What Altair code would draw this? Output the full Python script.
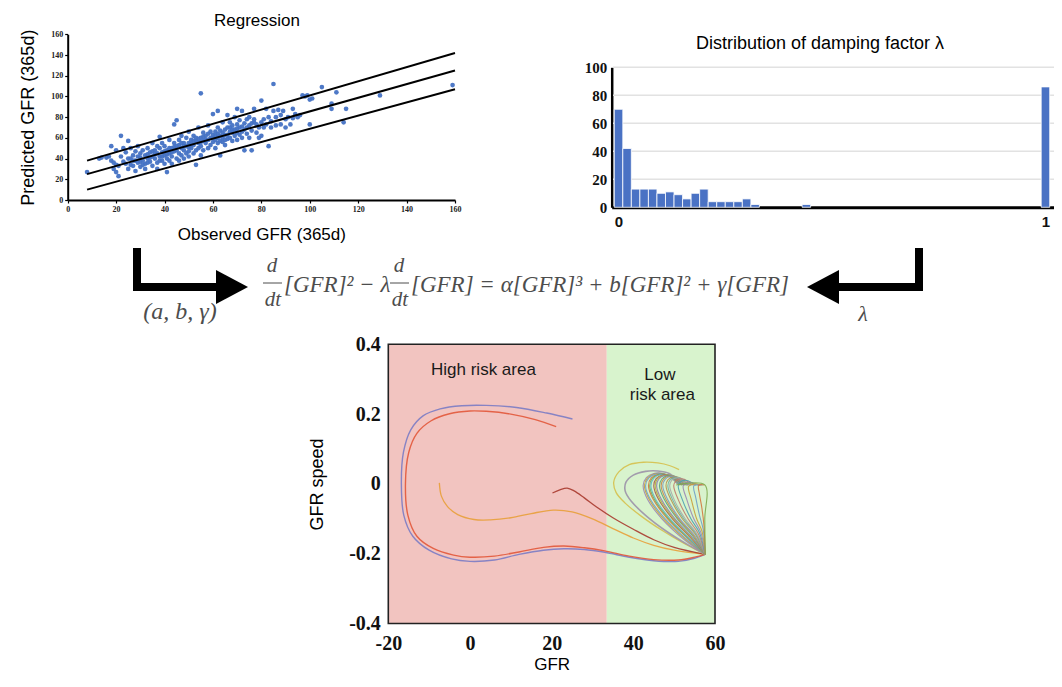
import altair as alt
import pandas as pd

W, H = 1046, 668
SANS = "Liberation Sans"
SERIF = "Liberation Serif"
M = 8  # page margin, page coords -> chart coords

# ---------------- Regression panel ----------------
regression_points = [
    (8, 27), (13, 40), (14, 41), (16, 41), (17, 42), (18, 52), (18, 38), (19, 30), (19, 36), (20, 27),
    (20, 34), (20, 48), (21, 23), (21, 33), (22, 62), (22, 42), (23, 37), (23, 50), (24, 35), (24, 46),
    (25, 57), (25, 30), (25, 40), (26, 40), (26, 50), (26, 34), (27, 33), (27, 43), (27, 38), (28, 28),
    (28, 38), (28, 47), (29, 36), (29, 52), (29, 42), (30, 32), (30, 41), (30, 45), (30, 37), (31, 38),
    (31, 48), (31, 34), (32, 35), (32, 30), (32, 43), (33, 44), (33, 40), (33, 50), (33, 36), (34, 37),
    (34, 46), (34, 41), (35, 33), (35, 42), (35, 55), (35, 47), (36, 40), (36, 48), (36, 44), (37, 36),
    (37, 45), (37, 30), (37, 52), (38, 42), (38, 50), (38, 61), (38, 38), (39, 38), (39, 46), (39, 55),
    (39, 42), (40, 35), (40, 43), (40, 52), (40, 47), (41, 40), (41, 48), (41, 27), (41, 44), (42, 45),
    (42, 38), (42, 58), (42, 50), (43, 50), (43, 42), (43, 35), (43, 46), (44, 47), (44, 55), (44, 73),
    (44, 51), (45, 40), (45, 52), (45, 77), (45, 48), (46, 45), (46, 58), (46, 38), (46, 53), (47, 50),
    (47, 43), (47, 62), (47, 55), (48, 48), (48, 55), (48, 40), (48, 52), (49, 52), (49, 45), (49, 60),
    (50, 47), (50, 55), (50, 42), (50, 66), (50, 51), (51, 50), (51, 58), (51, 54), (52, 53), (52, 45),
    (52, 62), (52, 57), (53, 48), (53, 57), (53, 34), (53, 60), (54, 55), (54, 50), (54, 70), (54, 59),
    (55, 52), (55, 60), (55, 103), (55, 43), (55, 56), (56, 57), (56, 48), (56, 65), (56, 61), (57, 55),
    (57, 62), (57, 58), (58, 50), (58, 58), (58, 72), (58, 64), (59, 60), (59, 53), (59, 66), (60, 56),
    (60, 63), (60, 83), (60, 60), (61, 58), (61, 66), (61, 50), (61, 62), (62, 60), (62, 55), (62, 70),
    (62, 86), (62, 64), (63, 62), (63, 43), (63, 57), (63, 67), (64, 65), (64, 60), (64, 75), (64, 56),
    (65, 58), (65, 68), (65, 53), (65, 63), (66, 63), (66, 70), (66, 82), (66, 59), (67, 60), (67, 66),
    (67, 75), (67, 70), (68, 65), (68, 57), (68, 72), (68, 68), (69, 68), (69, 62), (69, 80), (70, 65),
    (70, 58), (70, 73), (70, 88), (70, 69), (71, 70), (71, 63), (71, 77), (72, 66), (72, 60), (72, 86),
    (72, 71), (73, 68), (73, 48), (73, 74), (74, 70), (74, 64), (74, 78), (75, 72), (75, 60), (75, 80),
    (76, 67), (76, 48), (76, 74), (77, 75), (77, 78), (77, 88), (78, 65), (78, 73), (79, 70), (79, 60),
    (80, 75), (80, 96), (80, 62), (81, 78), (81, 70), (82, 73), (82, 88), (83, 52), (83, 80), (84, 76),
    (84, 70), (85, 112), (85, 86), (86, 80), (86, 72), (87, 87), (88, 82), (88, 73), (89, 86), (90, 78),
    (90, 70), (91, 80), (92, 73), (93, 88), (93, 79), (94, 83), (95, 80), (96, 82), (97, 101), (98, 100),
    (99, 101), (100, 73), (100, 97), (101, 98), (105, 109), (109, 93), (109, 88), (111, 104), (114, 75),
    (115, 88), (129, 101), (159, 111),
]
obs_gfr = [p[0] for p in regression_points]
pred_gfr = [p[1] for p in regression_points]
band_x = [8, 160]
band_upper = [38, 142]
band_mid = [25, 125]
band_lower = [10, 107]
scatter_ticks = [0, 20, 40, 60, 80, 100, 120, 140, 160]

# ---------------- Damping factor histogram ----------------
lambda_centers = [0.00, 0.02, 0.04, 0.06, 0.08, 0.10, 0.12, 0.14, 0.16, 0.18,
                  0.20, 0.22, 0.24, 0.26, 0.28, 0.30, 0.32, 0.44, 1.00]
lambda_counts = [70, 42, 13, 13, 13, 10, 11, 9, 6, 10, 13, 4, 4, 4, 4, 6, 2, 2, 86]
lambda_bin_width = 0.02
hist_ticks_y = [0, 20, 40, 60, 80, 100]
hist_grid = [20, 40, 60, 80, 100]

# ---------------- Phase portrait ----------------
high_risk_gfr = [-20, 33.5]
low_risk_gfr = [33.5, 60]
speed_range = [-0.4, 0.4]
phase_ticks_x = [-20, 0, 20, 40, 60]
phase_ticks_y = [-0.4, -0.2, 0, 0.2, 0.4]

blue_curve = [(25.1, 0.186), (18.8, 0.203), (11.4, 0.219), (4, 0.225), (-2, 0.224), (-7.3, 0.215),
              (-11.5, 0.195), (-14.5, 0.155), (-16.3, 0.09), (-16.8, 0.0), (-16.2, -0.09), (-14, -0.15),
              (-10, -0.19), (-4.5, -0.215), (0, -0.222), (6, -0.218), (12, -0.202), (18, -0.19),
              (23, -0.186), (28, -0.188), (33, -0.196), (39, -0.21), (45, -0.22), (51, -0.222),
              (55, -0.213), (57.6, -0.202)]
red_curve = [(21.1, 0.164), (16, 0.184), (10, 0.2), (4, 0.208), (0, 0.209), (-5, 0.201), (-9.5, 0.181),
             (-13, 0.145), (-15, 0.09), (-15.8, 0.0), (-15.2, -0.09), (-13, -0.15), (-9, -0.185),
             (-4, -0.204), (0, -0.21), (6, -0.207), (12, -0.195), (18, -0.182), (23, -0.178), (28, -0.183),
             (33, -0.192), (39, -0.207), (45, -0.217), (51, -0.218), (55, -0.21), (57.6, -0.202)]
orange_curve = [(-7.5, 0.003), (-7, -0.035), (-5.5, -0.065), (-3, -0.088), (1, -0.102), (5, -0.103),
                (10, -0.097), (15, -0.085), (20.4, -0.075), (25, -0.08), (30, -0.1), (35, -0.128),
                (40, -0.155), (45, -0.176), (50, -0.19), (57.6, -0.202)]
darkred_curve = [(20.2, -0.026), (22, -0.017), (23.8, -0.012), (25.5, -0.02), (28, -0.04), (31, -0.066),
                 (35, -0.097), (40, -0.13), (45, -0.16), (50, -0.182), (57.6, -0.202)]
yellow_curve = [(51.2, 0.041), (49, 0.052), (46, 0.06), (42.5, 0.062), (39, 0.055), (36.5, 0.035),
                (35.2, 0.005), (35.8, -0.025), (38, -0.055), (42, -0.093), (47, -0.133), (52, -0.168),
                (57.6, -0.202)]
gray_curve = [(50.4, 0.016), (48.8, 0.03), (46, 0.037), (43, 0.036), (40, 0.025), (38.2, 0.005),
              (38, -0.02), (39.5, -0.05), (43, -0.09), (48, -0.135), (53, -0.172), (57.6, -0.202)]

fan_curves = [
    [(57.6, -0.202), (52.5, -0.16), (47.0, -0.10), (43.5, -0.045), (42.4, -0.005), (43.2, 0.018), (45.0, 0.030), (47.2, 0.030), (49.2, 0.019), (50.6, 0.003), (51.2, -0.003)],
    [(57.6, -0.202), (52.8, -0.159), (47.4, -0.10), (43.9, -0.045), (42.7, -0.005), (43.5, 0.0175), (45.2, 0.029), (47.4, 0.029), (49.3, 0.018), (50.7, 0.0025), (51.3, -0.003)],
    [(57.6, -0.202), (53.0, -0.158), (47.8, -0.10), (44.2, -0.045), (43.0, -0.005), (43.8, 0.017), (45.5, 0.028), (47.6, 0.028), (49.5, 0.017), (50.8, 0.002), (51.5, -0.003)],
    [(57.6, -0.202), (53.3, -0.156), (48.4, -0.10), (44.9, -0.045), (43.7, -0.005), (44.4, 0.017), (46.0, 0.027), (48.0, 0.027), (49.8, 0.016), (51.1, 0.002), (51.8, -0.003)],
    [(57.6, -0.202), (53.45, -0.1555), (48.7, -0.10), (45.2, -0.045), (44.0, -0.005), (44.7, 0.0165), (46.25, 0.0265), (48.2, 0.0265), (49.95, 0.0155), (51.25, 0.0015), (51.95, -0.003)],
    [(57.6, -0.202), (53.6, -0.155), (49.0, -0.10), (45.5, -0.045), (44.3, -0.005), (45.0, 0.016), (46.5, 0.026), (48.4, 0.026), (50.1, 0.015), (51.4, 0.001), (52.1, -0.003)],
    [(57.6, -0.202), (54.0, -0.154), (49.6, -0.10), (46.2, -0.045), (45.0, -0.005), (45.6, 0.015), (47.0, 0.025), (48.8, 0.025), (50.4, 0.014), (51.7, 0.001), (52.4, -0.003)],
    [(57.6, -0.202), (54.15, -0.153), (49.9, -0.10), (46.55, -0.045), (45.35, -0.005), (45.95, 0.015), (47.3, 0.0245), (49.05, 0.0245), (50.6, 0.0135), (51.85, 0.0005), (52.6, -0.003)],
    [(57.6, -0.202), (54.3, -0.152), (50.2, -0.10), (46.9, -0.045), (45.7, -0.005), (46.3, 0.015), (47.6, 0.024), (49.3, 0.024), (50.8, 0.013), (52.0, 0.0), (52.8, -0.003)],
    [(57.6, -0.202), (54.6, -0.150), (50.8, -0.10), (47.6, -0.045), (46.4, -0.005), (47.0, 0.014), (48.2, 0.023), (49.8, 0.023), (51.2, 0.012), (52.4, 0.0), (53.2, -0.003)],
    [(57.6, -0.202), (54.8, -0.149), (51.1, -0.10), (48.0, -0.045), (46.8, -0.005), (47.4, 0.0135), (48.55, 0.022), (50.1, 0.022), (51.45, 0.011), (52.6, 0.0), (53.4, -0.003)],
    [(57.6, -0.202), (55.0, -0.148), (51.4, -0.10), (48.4, -0.045), (47.2, -0.005), (47.8, 0.013), (48.9, 0.021), (50.4, 0.021), (51.7, 0.010), (52.8, 0.0), (53.6, -0.003)],
    [(57.6, -0.202), (55.3, -0.146), (52.0, -0.10), (49.2, -0.045), (48.0, -0.005), (48.5, 0.012), (49.6, 0.019), (51.0, 0.019), (52.2, 0.009), (53.2, 0.0), (54.0, -0.003)],
    [(57.6, -0.202), (55.45, -0.145), (52.35, -0.10), (49.6, -0.045), (48.45, -0.005), (48.95, 0.011), (50.0, 0.018), (51.35, 0.0175), (52.5, 0.008), (53.45, -0.0005), (54.2, -0.003)],
    [(57.6, -0.202), (55.6, -0.144), (52.7, -0.10), (50.0, -0.045), (48.9, -0.005), (49.4, 0.010), (50.4, 0.017), (51.7, 0.016), (52.8, 0.007), (53.7, -0.001), (54.4, -0.003)],
    [(57.6, -0.202), (55.9, -0.142), (53.4, -0.10), (51.0, -0.045), (49.9, -0.005), (50.4, 0.008), (51.3, 0.014), (52.5, 0.013), (53.5, 0.005), (54.2, -0.001), (54.9, -0.003)],
    [(57.6, -0.202), (56.2, -0.140), (54.1, -0.10), (52.0, -0.045), (51.0, -0.006), (51.5, 0.005), (52.4, 0.010), (53.4, 0.009), (54.3, 0.003), (55.4, -0.003)],
    [(57.6, -0.202), (56.5, -0.138), (54.8, -0.10), (53.1, -0.045), (52.2, -0.006), (52.8, 0.003), (53.8, 0.005), (54.9, 0.001), (55.9, -0.003)],
    [(57.6, -0.202), (56.8, -0.135), (55.5, -0.10), (54.2, -0.045), (53.5, -0.008), (54.2, -0.002), (55.2, 0.0), (56.4, -0.003)],
    [(57.6, -0.202), (57.1, -0.130), (56.2, -0.09), (55.3, -0.04), (54.8, -0.006), (55.6, -0.003), (56.9, -0.003)],
    [(57.6, -0.202), (57.3, -0.120), (56.8, -0.07), (56.2, -0.03), (56.0, -0.004), (57.4, -0.003)],
    [(57.6, -0.202), (57.5, -0.10), (57.5, -0.003), (50.5, -0.003)],
]
fan_colors = ["#9a86b4", "#c9a03a", "#6e9fc8", "#d3783e", "#7eaa4e", "#5fb6c6", "#a8564a", "#b4b23e",
              "#8f7fae", "#5aa67a", "#c98a48", "#7d9bc0", "#b7914e", "#6fb0a0", "#a9a9a9", "#c07a6a",
              "#4f9fb0"]

main_curves = [("blue", blue_curve, "#7b7cc4", 1.4), ("red", red_curve, "#e2583a", 1.4),
               ("orange", orange_curve, "#e8a03a", 1.3), ("darkred", darkred_curve, "#a83a2e", 1.3),
               ("yellow", yellow_curve, "#d6c04c", 1.3), ("gray", gray_curve, "#9c92a8", 1.6)]

# ---------------- helpers ----------------
one_row = pd.DataFrame({"k": [0]})


def txt(s, px, py, size, font=SANS, style="normal", weight="normal", color="black", align="center"):
    return alt.Chart(one_row).mark_text(
        text=s, font=font, fontSize=size, fontStyle=style, fontWeight=weight, color=color,
        align=align, baseline="middle"
    ).encode(x=alt.value(px - M), y=alt.value(py - M))


def rule(px1, py1, px2, py2, width=8, color="black", cap="butt"):
    return alt.Chart(one_row).mark_rule(color=color, strokeWidth=width, strokeCap=cap).encode(
        x=alt.value(px1 - M), y=alt.value(py1 - M), x2=alt.value(px2 - M), y2=alt.value(py2 - M))


def head(shape, px, py, size):
    return alt.Chart(one_row).mark_point(shape=shape, size=size, filled=True, color="black",
                                         opacity=1, strokeWidth=0).encode(
        x=alt.value(px - M), y=alt.value(py - M))


# ---------------- Regression panel ----------------
sx = alt.Scale(domain=[0, 160], range=[67.7 - M, 455 - M], nice=False, zero=False)
sy = alt.Scale(domain=[0, 160], range=[200 - M, 34.3 - M], nice=False, zero=False)
ax_sx = alt.Axis(orient="bottom", offset=(200 - M) - H, values=scatter_ticks, grid=False,
                 domainColor="black", domainWidth=2, tickColor="black", tickWidth=1.2, tickSize=3,
                 labelFont=SERIF, labelFontWeight="bold", labelFontSize=8, labelColor="#222",
                 labelPadding=2, labelFlush=False, title="Observed GFR (365d)", titleFont=SANS,
                 titleFontSize=17, titleFontWeight="normal", titleColor="black", titlePadding=13)
ax_sy = alt.Axis(orient="left", offset=-(67.7 - M), values=scatter_ticks, grid=False,
                 domainColor="black", domainWidth=2, tickColor="black", tickWidth=1.2, tickSize=3,
                 labelFont=SERIF, labelFontWeight="bold", labelFontSize=8, labelColor="#222",
                 labelPadding=2, title="Predicted GFR (365d)", titleFont=SANS, titleFontSize=18,
                 titleFontWeight="normal", titleColor="black", titlePadding=13)

scat_df = pd.DataFrame({"obs": obs_gfr, "pred": pred_gfr})
band_df = pd.DataFrame({
    "x": band_x * 3,
    "y": band_upper + band_mid + band_lower,
    "band": ["upper"] * 2 + ["mid"] * 2 + ["lower"] * 2,
})
scatter_pts = alt.Chart(scat_df).mark_circle(size=22, color="#4472c4", opacity=0.95).encode(
    x=alt.X("obs:Q", scale=sx, axis=ax_sx), y=alt.Y("pred:Q", scale=sy, axis=ax_sy))
band_lines = alt.Chart(band_df).mark_line(color="black", strokeWidth=2).encode(
    x=alt.X("x:Q", scale=sx, axis=ax_sx), y=alt.Y("y:Q", scale=sy, axis=ax_sy), detail="band:N")
scatter_panel = alt.layer(scatter_pts, band_lines)

# ---------------- Histogram panel ----------------
hx = alt.Scale(domain=[-0.016, 1.02], range=[611.7 - M, 1054 - M], nice=False, zero=False)
hy = alt.Scale(domain=[0, 100], range=[207.3 - M, 67.3 - M], nice=False, zero=False)
ax_hx = alt.Axis(orient="bottom", offset=(207.3 - M) - H, values=[0, 1], format="d", grid=False,
                 ticks=False, domainColor="black", domainWidth=3, labelFont=SANS,
                 labelFontWeight="bold", labelFontSize=15, labelColor="#111", labelPadding=7,
                 labelFlush=False, title=None)
ax_hy = alt.Axis(orient="left", offset=-(611.7 - M), values=hist_ticks_y, grid=False, ticks=False,
                 domainColor="black", domainWidth=2.5, labelFont=SERIF, labelFontWeight="bold",
                 labelFontSize=15, labelColor="#111", labelPadding=5, title=None)

hist_df = pd.DataFrame({"lam": lambda_centers, "count": lambda_counts})
hist_df["lo"] = hist_df["lam"] - lambda_bin_width / 2
hist_df["hi"] = hist_df["lam"] + lambda_bin_width / 2
grid_df = pd.DataFrame({"g": hist_grid})
hist_grid_rules = alt.Chart(grid_df).mark_rule(color="#e2e2e2", strokeWidth=1.5).encode(
    y=alt.Y("g:Q", scale=hy, axis=ax_hy), x=alt.value(613 - M), x2=alt.value(1054 - M))
hist_bars = alt.Chart(hist_df).mark_bar(color="#4a72c4", stroke="white", strokeWidth=0.8).encode(
    x=alt.X("lo:Q", scale=hx, axis=ax_hx), x2="hi:Q",
    y=alt.Y("count:Q", scale=hy, axis=ax_hy), y2=alt.datum(0))
hist_panel = alt.layer(hist_grid_rules, hist_bars)

# ---------------- Phase portrait panel ----------------
px_ = alt.Scale(domain=[-20, 60], range=[388.3 - M, 715 - M], nice=False, zero=False)
py_ = alt.Scale(domain=[-0.4, 0.4], range=[623.5 - M, 344.3 - M], nice=False, zero=False)
ax_px = alt.Axis(orient="bottom", offset=(623.5 - M) - H, values=phase_ticks_x, grid=False,
                 ticks=False, domain=False, labelFont=SERIF, labelFontWeight="bold", labelFontSize=20,
                 labelColor="#111", labelPadding=10, labelFlush=False,
                 labelExpr="replace(datum.label, '\u2212', '-')",
                 title="GFR", titleFont=SANS, titleFontSize=17, titleFontWeight="normal",
                 titleColor="black", titlePadding=3)
ax_py = alt.Axis(orient="left", offset=-(388.3 - M), values=phase_ticks_y, grid=False, ticks=False,
                 domain=False, labelFont=SERIF, labelFontWeight="bold", labelFontSize=20,
                 labelColor="#111", labelPadding=8,
                 labelExpr="datum.value == 0 ? '0' : replace(format(datum.value, '.1f'), '\u2212', '-')",
                 title="GFR speed", titleFont=SANS, titleFontSize=18, titleFontWeight="normal",
                 titleColor="black", titlePadding=22)

region_df = pd.DataFrame({
    "x0": [high_risk_gfr[0], low_risk_gfr[0]], "x1": [high_risk_gfr[1], low_risk_gfr[1]],
    "y0": [speed_range[0]] * 2, "y1": [speed_range[1]] * 2, "fillc": ["#f2c4c0", "#d8f3cd"],
})
regions = alt.Chart(region_df).mark_rect(opacity=1).encode(
    x=alt.X("x0:Q", scale=px_, axis=ax_px), x2="x1:Q",
    y=alt.Y("y0:Q", scale=py_, axis=ax_py), y2="y1:Q",
    fill=alt.Fill("fillc:N", scale=None))

rows = []
for name, pts, col, w in main_curves:
    for i, (g, s) in enumerate(pts):
        rows.append({"curve": name, "i": i, "gfr": g, "speed": s, "col": col, "w": w})
for k, pts in enumerate(fan_curves):
    for i, (g, s) in enumerate(pts):
        rows.append({"curve": f"fan{k}", "i": i, "gfr": g, "speed": s,
                     "col": fan_colors[k % len(fan_colors)], "w": 1.1})
curve_df = pd.DataFrame(rows)
curves = alt.Chart(curve_df).mark_line(interpolate="catmull-rom", opacity=0.9).encode(
    x=alt.X("gfr:Q", scale=px_, axis=ax_px), y=alt.Y("speed:Q", scale=py_, axis=ax_py),
    detail="curve:N", order=alt.Order("i:Q"),
    stroke=alt.Stroke("col:N", scale=None), strokeWidth=alt.StrokeWidth("w:Q", scale=None))

frame_df = pd.DataFrame({"x0": [-20], "x1": [60], "y0": [-0.4], "y1": [0.4]})
frame = alt.Chart(frame_df).mark_rect(filled=False, stroke="#222", strokeWidth=1.6).encode(
    x=alt.X("x0:Q", scale=px_, axis=ax_px), x2="x1:Q",
    y=alt.Y("y0:Q", scale=py_, axis=ax_py), y2="y1:Q")

label_df = pd.DataFrame({
    "t": ["High risk area", "Low", "risk area"],
    "gx": [3.3, 46.5, 47.1], "gy": [0.325, 0.312, 0.255],
})
region_labels = alt.Chart(label_df).mark_text(font=SANS, fontSize=17, color="#1a1a1a").encode(
    x=alt.X("gx:Q", scale=px_, axis=ax_px), y=alt.Y("gy:Q", scale=py_, axis=ax_py), text="t:N")
phase_panel = alt.layer(regions, curves, frame, region_labels)

# ---------------- annotations ----------------
eq_col = "#4d4d4d"
EQ = 23
annotations = [
    txt("Regression", 257, 21, 17),
    txt("Distribution of damping factor \u03bb", 820, 43.5, 18),
    # left arrow
    rule(137, 248, 137, 291), rule(133, 287, 222, 287), head("M -1 -1.06 L 1 0 L -1 1.06 Z", 232, 287, 1024),
    # right arrow
    rule(919, 248, 919, 291), rule(923, 287, 836, 287), head("M 1 -1.06 L -1 0 L 1 1.06 Z", 823, 287, 1024),
    txt("(a, b, \u03b3)", 180, 312, 24, font=SERIF, style="italic", color=eq_col),
    txt("\u03bb", 863, 314, 22, font=SERIF, style="italic", color=eq_col),
    # equation
    txt("d", 272, 266, 21, font=SERIF, style="italic", color=eq_col),
    rule(263, 283, 282, 283, width=1, color=eq_col),
    txt("dt", 273, 300, 21, font=SERIF, style="italic", color=eq_col),
    txt("[GFR]\u00b2 \u2212 \u03bb", 284, 285, EQ, font=SERIF, style="italic", color=eq_col, align="left"),
    txt("d", 399, 266, 21, font=SERIF, style="italic", color=eq_col),
    rule(390, 283, 409, 283, width=1, color=eq_col),
    txt("dt", 400, 300, 21, font=SERIF, style="italic", color=eq_col),
    txt("[GFR] = \u03b1[GFR]\u00b3 + b[GFR]\u00b2 + \u03b3[GFR]", 411, 285, EQ, font=SERIF,
        style="italic", color=eq_col, align="left"),
]

chart = alt.layer(scatter_panel, hist_panel, phase_panel, *annotations).resolve_scale(
    x="independent", y="independent"
).properties(
    width=W, height=H, padding=0, autosize=alt.AutoSizeParams(type="none"), background="white"
).configure_view(stroke=None)

chart.save("out.html", embed_options={"renderer": "svg", "actions": False})
